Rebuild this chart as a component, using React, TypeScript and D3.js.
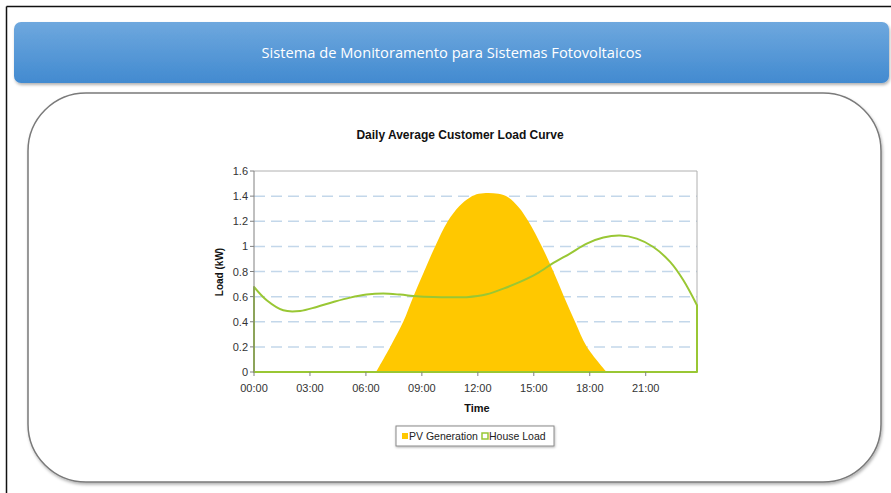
import React, { useEffect } from "react";
import * as d3 from "d3";

// ---- data ----
const headerTitle = "Sistema de Monitoramento para Sistemas Fotovoltaicos";
const chartTitle = "Daily Average Customer Load Curve";
const yTicks = [0, 0.2, 0.4, 0.6, 0.8, 1, 1.2, 1.4, 1.6];
const xTickHours = [0, 3, 6, 9, 12, 15, 18, 21];
const xTickLabels = ["00:00", "03:00", "06:00", "09:00", "12:00", "15:00", "18:00", "21:00"];
const seriesNames = ["PV Generation", "House Load"];

const pvHours = [6.54, 7.3, 8.0, 8.54, 9.12, 9.71, 10.39, 11.0, 11.58, 12.05, 12.56, 13.1, 13.64, 14.2, 14.71, 15.43, 16.05, 16.62, 17.21, 17.85, 18.91];
const pvValues = [0, 0.2, 0.4, 0.6, 0.8, 1.0, 1.2, 1.32, 1.39, 1.418, 1.425, 1.418, 1.39, 1.31, 1.2, 1.0, 0.8, 0.6, 0.4, 0.2, 0];

const loadHours = [0, 0.68, 1.57, 2.47, 3.36, 4.25, 5.15, 6.04, 6.93, 7.83, 8.72, 9.61, 10.5, 11.4, 12.48, 13.37, 14.26, 15.16, 16.05, 16.94, 17.84, 18.73, 19.62, 20.52, 21.41, 22.31, 23.02, 23.75];
const loadValues = [0.677, 0.571, 0.491, 0.486, 0.518, 0.557, 0.592, 0.616, 0.624, 0.616, 0.603, 0.597, 0.595, 0.596, 0.619, 0.664, 0.717, 0.783, 0.868, 0.943, 1.022, 1.07, 1.086, 1.062, 0.995, 0.876, 0.73, 0.531];

const W = 891;
const H = 493;
const plot = { left: 254, right: 697, top: 171, bottom: 372 };

const PV_COLOR = "#ffc800";
const LOAD_COLOR = "#99c734";
const CHART_FONT = "'Liberation Sans', Arial, sans-serif";

export default function App() {
  useEffect(() => {
    document.body.style.margin = "0";
  }, []);

  const x = d3.scaleLinear().domain([0, 23.75]).range([plot.left, plot.right]);
  const y = d3.scaleLinear().domain([0, 1.6]).range([plot.bottom, plot.top]);
  const fmt = d3.format("~g");

  const pvData = pvHours.map((h, i) => [h, pvValues[i]] as [number, number]);
  const loadData = loadHours.map((h, i) => [h, loadValues[i]] as [number, number]);

  const pvArea = d3
    .area<[number, number]>()
    .x((d) => x(d[0]))
    .y0(y(0))
    .y1((d) => y(d[1]))
    .curve(d3.curveCatmullRom.alpha(0.5))(pvData) as string;

  const loadLine = d3
    .line<[number, number]>()
    .x((d) => x(d[0]))
    .y((d) => y(d[1]))
    .curve(d3.curveCatmullRom.alpha(0.5))(loadData) as string;

  const first = loadData[0];
  const last = loadData[loadData.length - 1];
  const loadOutline = loadLine + `L${x(last[0])},${y(0)}L${x(first[0])},${y(0)}Z`;

  const legendX = 396;
  const legendY = 426;

  return (
    <svg
      width={W}
      height={H}
      viewBox={`0 0 ${W} ${H}`}
      style={{ position: "absolute", left: 0, top: 0, display: "block", background: "#fff" }}
    >
      <defs>
        <linearGradient id="hdr" x1="0" y1="0" x2="0" y2="1">
          <stop offset="0" stopColor="#6ea8de" />
          <stop offset="1" stopColor="#428ad0" />
        </linearGradient>
        <filter id="shadow" x="-5%" y="-5%" width="110%" height="120%">
          <feDropShadow dx="1" dy="2" stdDeviation="1.5" floodColor="#000" floodOpacity="0.3" />
        </filter>
        <filter id="shadow2" x="-5%" y="-20%" width="110%" height="150%">
          <feDropShadow dx="0.5" dy="1" stdDeviation="1" floodColor="#000" floodOpacity="0.3" />
        </filter>
        <clipPath id="plotClip">
          <rect x={plot.left} y={plot.top - 5} width={plot.right - plot.left + 2} height={plot.bottom - plot.top + 6} />
        </clipPath>
      </defs>

      {/* outer frame (top and left only) */}
      <line x1={6.5} y1={6.5} x2={W} y2={6.5} stroke="#111" strokeWidth={1.5} />
      <line x1={6.5} y1={6.5} x2={6.5} y2={H} stroke="#111" strokeWidth={1.5} />

      {/* header */}
      <rect x={14} y={22} width={875} height={61} rx={7} fill="url(#hdr)" filter="url(#shadow)" />
      <text
        x={451.5}
        y={58}
        textAnchor="middle"
        fill="#fff"
        fontFamily="'Open Sans', sans-serif"
        fontSize={14}
        textLength={380}
        lengthAdjust="spacingAndGlyphs"
      >
        {headerTitle}
      </text>

      {/* panel */}
      <rect
        x={28}
        y={93}
        width={853}
        height={389}
        rx={58}
        fill="#fff"
        stroke="#7a7a7a"
        strokeWidth={1.5}
        filter="url(#shadow)"
      />

      {/* chart title */}
      <text x={460} y={139} textAnchor="middle" fontFamily={CHART_FONT} fontWeight="bold" fontSize={12} fill="#111">
        {chartTitle}
      </text>

      {/* gridlines */}
      {yTicks
        .filter((t) => t > 0 && t < 1.6)
        .map((t) => (
          <line
            key={"g" + t}
            x1={plot.left}
            x2={plot.right}
            y1={y(t)}
            y2={y(t)}
            stroke="#c3d7ea"
            strokeWidth={1.5}
            strokeDasharray="11 6"
          />
        ))}

      {/* plot border top/right */}
      <line x1={plot.left} x2={plot.right} y1={y(1.6)} y2={y(1.6)} stroke="#b0b0b0" strokeWidth={1} />
      <line x1={plot.right} x2={plot.right} y1={y(1.6)} y2={y(0)} stroke="#b0b0b0" strokeWidth={1} />

      {/* PV area */}
      <path d={pvArea} fill={PV_COLOR} clipPath="url(#plotClip)" />

      {/* House load outline */}
      <path d={loadOutline} fill="none" stroke={LOAD_COLOR} strokeWidth={2} strokeLinejoin="round" />

      {/* y axis */}
      <line x1={plot.left} x2={plot.left} y1={y(1.6)} y2={y(0)} stroke="#808080" strokeWidth={1} />
      {yTicks.map((t) => (
        <g key={"y" + t}>
          <line x1={plot.left - 4} x2={plot.left} y1={y(t)} y2={y(t)} stroke="#808080" />
          <text
            x={plot.left - 6}
            y={y(t) + 4}
            textAnchor="end"
            fontFamily={CHART_FONT}
            fontSize={11}
            fill="#333"
          >
            {fmt(t)}
          </text>
        </g>
      ))}

      {/* x axis ticks */}
      {xTickHours.map((h, i) => (
        <g key={"x" + h}>
          <line x1={x(h)} x2={x(h)} y1={plot.bottom} y2={plot.bottom + 4} stroke="#808080" />
          <text
            x={x(h)}
            y={392}
            textAnchor="middle"
            fontFamily={CHART_FONT}
            fontSize={11}
            fill="#333"
          >
            {xTickLabels[i]}
          </text>
        </g>
      ))}

      {/* axis titles */}
      <text x={477} y={412} textAnchor="middle" fontFamily={CHART_FONT} fontWeight="bold" fontSize={11} fill="#111">
        Time
      </text>
      <text
        transform={`translate(223, 272) rotate(-90)`}
        textAnchor="middle"
        fontFamily={CHART_FONT}
        fontWeight="bold"
        fontSize={10}
        fill="#111"
      >
        Load (kW)
      </text>

      {/* legend */}
      <rect
        x={legendX}
        y={legendY}
        width={158}
        height={20}
        fill="#fff"
        stroke="#8a8a8a"
        strokeWidth={1}
        filter="url(#shadow2)"
      />
      <rect x={legendX + 6} y={legendY + 7} width={6} height={6} fill={PV_COLOR} />
      <text x={legendX + 13} y={legendY + 14} fontFamily={CHART_FONT} fontSize={10.5} fill="#222">
        {seriesNames[0]}
      </text>
      <rect x={legendX + 86} y={legendY + 7} width={6} height={6} fill="#fff" stroke={LOAD_COLOR} strokeWidth={1.5} />
      <text x={legendX + 93} y={legendY + 14} fontFamily={CHART_FONT} fontSize={10.5} fill="#222">
        {seriesNames[1]}
      </text>
    </svg>
  );
}
